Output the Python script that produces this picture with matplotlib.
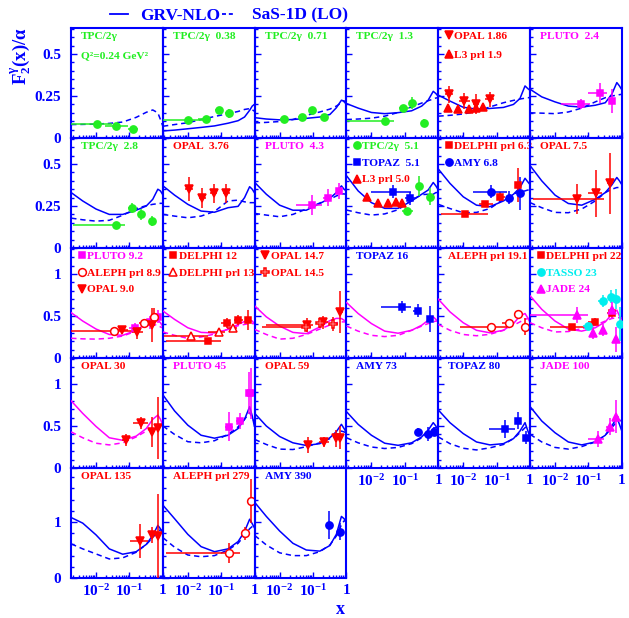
import numpy as np
import matplotlib
matplotlib.use("Agg")
import matplotlib.pyplot as plt
from matplotlib.lines import Line2D
from matplotlib.ticker import FixedLocator, FixedFormatter, LogLocator, NullFormatter

plt.rcParams.update({
    "font.family": ["Liberation Serif", "DejaVu Serif"],
    "font.weight": "bold",
    "mathtext.fontset": "custom",
    "mathtext.rm": "Liberation Serif:bold",
    "mathtext.it": "Liberation Serif:bold",
    "mathtext.bf": "Liberation Serif:bold",
    "mathtext.sf": "Liberation Serif:bold",
})

BLUE = "#0000ff"
GREEN = "#22ee22"
RED = "#ff0000"
MAGENTA = "#ff00ff"
CYAN = "#00eeee"

# ---------------------------------------------------------------- theory curves
curve_x = [0.0018, 0.004, 0.01, 0.025, 0.063, 0.16, 0.32, 0.5, 0.71, 0.85, 0.98]

sas_024 = [0.080, 0.081, 0.083, 0.087, 0.095, 0.123, 0.153, 0.167, 0.150, 0.110, 0.075]
grv_038 = [0.042, 0.047, 0.055, 0.063, 0.072, 0.088, 0.103, 0.125, 0.165, 0.190, 0.200]
sas_038 = [0.070, 0.080, 0.091, 0.110, 0.128, 0.145, 0.158, 0.170, 0.175, 0.168, 0.160]
grv_071 = [0.121, 0.113, 0.108, 0.110, 0.117, 0.125, 0.140, 0.180, 0.225, 0.220, 0.200]
sas_071 = [0.090, 0.093, 0.098, 0.110, 0.135, 0.155, 0.172, 0.190, 0.210, 0.220, 0.210]
grv_13 = [0.205, 0.178, 0.152, 0.145, 0.151, 0.162, 0.190, 0.225, 0.278, 0.265, 0.250]
sas_13 = [0.110, 0.113, 0.118, 0.130, 0.152, 0.185, 0.208, 0.222, 0.232, 0.238, 0.240]
grv_186 = [0.255, 0.220, 0.183, 0.172, 0.176, 0.182, 0.200, 0.235, 0.310, 0.295, 0.285]
sas_186 = [0.130, 0.135, 0.143, 0.158, 0.185, 0.210, 0.224, 0.232, 0.237, 0.240, 0.240]
grv_24 = [0.290, 0.245, 0.215, 0.190, 0.184, 0.195, 0.210, 0.260, 0.330, 0.310, 0.290]
sas_24 = [0.150, 0.148, 0.145, 0.155, 0.178, 0.215, 0.240, 0.250, 0.255, 0.258, 0.260]
grv_28 = [0.330, 0.280, 0.232, 0.200, 0.200, 0.225, 0.250, 0.290, 0.350, 0.340, 0.320]
sas_28 = [0.178, 0.168, 0.160, 0.165, 0.195, 0.235, 0.252, 0.260, 0.264, 0.266, 0.266]
grv_376 = [0.370, 0.315, 0.260, 0.220, 0.213, 0.240, 0.248, 0.300, 0.365, 0.350, 0.330]
sas_376 = [0.200, 0.190, 0.180, 0.190, 0.218, 0.280, 0.285, 0.275, 0.270, 0.270, 0.270]
grv_43 = [0.390, 0.320, 0.255, 0.225, 0.225, 0.265, 0.296, 0.330, 0.370, 0.350, 0.340]
sas_43 = [0.206, 0.196, 0.186, 0.200, 0.232, 0.268, 0.290, 0.310, 0.322, 0.322, 0.320]
grv_51 = [0.430, 0.340, 0.270, 0.236, 0.236, 0.280, 0.320, 0.345, 0.390, 0.370, 0.350]
sas_51 = [0.226, 0.210, 0.196, 0.203, 0.228, 0.285, 0.318, 0.320, 0.320, 0.330, 0.330]
grv_63 = [0.470, 0.385, 0.305, 0.255, 0.246, 0.280, 0.320, 0.360, 0.415, 0.395, 0.380]
sas_63 = [0.260, 0.235, 0.210, 0.212, 0.235, 0.290, 0.322, 0.335, 0.340, 0.345, 0.345]
grv_75 = [0.490, 0.400, 0.315, 0.265, 0.255, 0.290, 0.330, 0.375, 0.420, 0.400, 0.380]
sas_75 = [0.270, 0.240, 0.212, 0.210, 0.232, 0.280, 0.330, 0.350, 0.360, 0.360, 0.360]
grv_92 = [0.540, 0.440, 0.345, 0.280, 0.270, 0.330, 0.410, 0.455, 0.450, 0.420, 0.380]
sas_92 = [0.235, 0.228, 0.225, 0.235, 0.262, 0.320, 0.390, 0.400, 0.390, 0.370, 0.360]
grv_12 = [0.560, 0.460, 0.360, 0.305, 0.298, 0.340, 0.400, 0.435, 0.452, 0.440, 0.410]
sas_12 = [0.310, 0.270, 0.234, 0.250, 0.285, 0.345, 0.385, 0.400, 0.410, 0.410, 0.410]
grv_147 = [0.620, 0.490, 0.380, 0.305, 0.290, 0.370, 0.445, 0.472, 0.470, 0.450, 0.430]
sas_147 = [0.340, 0.280, 0.225, 0.235, 0.280, 0.345, 0.393, 0.420, 0.430, 0.430, 0.430]
grv_16 = [0.660, 0.530, 0.410, 0.320, 0.295, 0.330, 0.390, 0.450, 0.490, 0.460, 0.430]
sas_16 = [0.380, 0.320, 0.270, 0.255, 0.270, 0.330, 0.380, 0.410, 0.430, 0.440, 0.440]
grv_191 = [0.700, 0.550, 0.420, 0.330, 0.300, 0.330, 0.410, 0.500, 0.530, 0.480, 0.430]
sas_191 = [0.400, 0.330, 0.280, 0.265, 0.282, 0.330, 0.390, 0.430, 0.460, 0.470, 0.470]
grv_22 = [0.740, 0.580, 0.440, 0.345, 0.320, 0.360, 0.430, 0.520, 0.570, 0.500, 0.450]
sas_22 = [0.420, 0.360, 0.310, 0.315, 0.350, 0.390, 0.440, 0.470, 0.480, 0.480, 0.480]
grv_30 = [0.800, 0.650, 0.495, 0.360, 0.330, 0.380, 0.470, 0.580, 0.630, 0.580, 0.520]
sas_30 = [0.430, 0.360, 0.295, 0.275, 0.300, 0.370, 0.440, 0.480, 0.500, 0.500, 0.500]
grv_45 = [0.870, 0.680, 0.510, 0.390, 0.355, 0.390, 0.470, 0.580, 0.730, 0.620, 0.500]
sas_45 = [0.500, 0.400, 0.313, 0.300, 0.325, 0.400, 0.490, 0.580, 0.660, 0.600, 0.550]
grv_59 = [0.650, 0.500, 0.375, 0.300, 0.268, 0.290, 0.360, 0.433, 0.520, 0.470, 0.430]
sas_59 = [0.340, 0.280, 0.225, 0.220, 0.254, 0.300, 0.350, 0.400, 0.440, 0.430, 0.420]
grv_73 = [0.670, 0.520, 0.390, 0.295, 0.270, 0.300, 0.370, 0.450, 0.540, 0.500, 0.450]
sas_73 = [0.360, 0.300, 0.250, 0.232, 0.245, 0.290, 0.360, 0.420, 0.470, 0.480, 0.470]
grv_80 = [0.690, 0.540, 0.410, 0.310, 0.275, 0.290, 0.350, 0.440, 0.540, 0.450, 0.380]
sas_80 = [0.370, 0.290, 0.235, 0.215, 0.240, 0.280, 0.350, 0.420, 0.480, 0.500, 0.480]
grv_100 = [0.730, 0.560, 0.420, 0.310, 0.275, 0.310, 0.390, 0.500, 0.600, 0.520, 0.450]
sas_100 = [0.400, 0.310, 0.245, 0.225, 0.255, 0.310, 0.390, 0.480, 0.550, 0.570, 0.560]
grv_135 = [1.080, 0.980, 0.770, 0.520, 0.425, 0.470, 0.600, 0.760, 0.940, 0.880, 0.800]
sas_135 = [0.610, 0.520, 0.430, 0.340, 0.360, 0.460, 0.600, 0.720, 0.840, 0.860, 0.850]
grv_279 = [1.300, 1.060, 0.780, 0.560, 0.470, 0.520, 0.650, 0.830, 1.050, 0.970, 0.900]
sas_279 = [0.720, 0.550, 0.411, 0.380, 0.400, 0.500, 0.620, 0.760, 0.880, 0.920, 0.920]
grv_390 = [1.350, 1.100, 0.840, 0.620, 0.500, 0.480, 0.580, 0.780, 1.100, 1.060, 1.000]
sas_390 = [0.760, 0.590, 0.450, 0.400, 0.400, 0.470, 0.590, 0.750, 0.950, 1.020, 1.020]

# ---------------------------------------------------------------- measurements
# x, F2/alpha, vertical error, horizontal bin range
tpc_024 = dict(x=[0.011, 0.041, 0.13], y=[0.081, 0.071, 0.056], ey=[0.008, 0.008, 0.008],
               xlo=[0.0018, 0.019, 0.093], xhi=[0.03, 0.093, 0.18])
tpc_038 = dict(x=[0.0098, 0.036, 0.083, 0.17], y=[0.107, 0.111, 0.165, 0.147], ey=[0.008, 0.008, 0.02, 0.025],
               xlo=[0.0018, 0.02, 0.065, 0.13], xhi=[0.03, 0.05, 0.1, 0.23])
tpc_071 = dict(x=[0.0135, 0.047, 0.091, 0.22], y=[0.111, 0.125, 0.167, 0.125], ey=[0.008, 0.01, 0.015, 0.015],
               xlo=[0.01, 0.035, 0.075, 0.17], xhi=[0.018, 0.06, 0.11, 0.28])
tpc_13 = dict(x=[0.026, 0.091, 0.166, 0.37], y=[0.101, 0.177, 0.21, 0.091], ey=[0.008, 0.02, 0.035, 0.02],
              xlo=[0.0018, 0.065, 0.13, 0.3], xhi=[0.048, 0.13, 0.2, 0.45])
opal_186 = dict(x=[0.0038, 0.0105, 0.024, 0.062], y=[0.26, 0.22, 0.2, 0.23], ey=[0.05, 0.045, 0.06, 0.045],
                xlo=[0.0028, 0.0075, 0.019, 0.045], xhi=[0.005, 0.016, 0.03, 0.085])
l3_19 = dict(x=[0.0034, 0.0069, 0.0145, 0.024, 0.038], y=[0.177, 0.171, 0.171, 0.18, 0.185],
             ey=[0.012, 0.012, 0.012, 0.012, 0.012],
             xlo=[0.0034, 0.0069, 0.0145, 0.024, 0.038], xhi=[0.0034, 0.0069, 0.0145, 0.024, 0.038])
pluto_24 = dict(x=[0.058, 0.22, 0.5], y=[0.2, 0.27, 0.22], ey=[0.03, 0.06, 0.07],
                xlo=[0.015, 0.1, 0.5], xhi=[0.115, 0.35, 0.5])
tpc_28 = dict(x=[0.041, 0.12, 0.23, 0.47], y=[0.137, 0.236, 0.2, 0.16], ey=[0.01, 0.03, 0.035, 0.03],
              xlo=[0.002, 0.09, 0.2, 0.4], xhi=[0.076, 0.15, 0.26, 0.55])
opal_376 = dict(x=[0.011, 0.027, 0.059, 0.14], y=[0.351, 0.296, 0.325, 0.325], ey=[0.07, 0.06, 0.055, 0.055],
                xlo=[0.0085, 0.021, 0.045, 0.11], xhi=[0.014, 0.034, 0.075, 0.18])
pluto_43 = dict(x=[0.091, 0.28, 0.59], y=[0.256, 0.3, 0.34], ey=[0.06, 0.05, 0.05],
                xlo=[0.03, 0.2, 0.5], xhi=[0.18, 0.36, 0.68])
tpc_51 = dict(x=[0.12, 0.26, 0.55], y=[0.22, 0.371, 0.306], ey=[0.02, 0.06, 0.05],
              xlo=[0.08, 0.26, 0.55], xhi=[0.17, 0.26, 0.55])
topaz_51 = dict(x=[0.044, 0.14], y=[0.335, 0.296], ey=[0.04, 0.04], xlo=[0.01, 0.1], xhi=[0.15, 0.2])
l3_50 = dict(x=[0.0076, 0.0158, 0.031, 0.055, 0.085], y=[0.306, 0.27, 0.266, 0.276, 0.27],
             ey=[0.012, 0.012, 0.012, 0.012, 0.012],
             xlo=[0.0076, 0.0158, 0.031, 0.055, 0.085], xhi=[0.0076, 0.0158, 0.031, 0.055, 0.085])
delphi_63 = dict(x=[0.011, 0.045, 0.13, 0.43], y=[0.2, 0.262, 0.306, 0.375], ey=[0.015, 0.02, 0.025, 0.1],
                 xlo=[0.0022, 0.03, 0.1, 0.35], xhi=[0.054, 0.08, 0.18, 0.5])
amy_68 = dict(x=[0.069, 0.24, 0.49], y=[0.335, 0.3, 0.325], ey=[0.04, 0.04, 0.1],
              xlo=[0.02, 0.24, 0.49], xhi=[0.2, 0.24, 0.49])
opal_75 = dict(x=[0.044, 0.17, 0.45], y=[0.292, 0.325, 0.385], ey=[0.09, 0.14, 0.18],
               xlo=[0.0022, 0.1, 0.35], xhi=[0.3, 0.25, 0.55])
pluto_92 = dict(x=[0.15, 0.4, 0.72], y=[0.361, 0.425, 0.492], ey=[0.05, 0.08, 0.08],
                xlo=[0.1, 0.3, 0.6], xhi=[0.2, 0.5, 0.85])
aleph_89 = dict(x=[0.035, 0.275, 0.55], y=[0.325, 0.413, 0.49], ey=[0.03, 0.05, 0.1],
                xlo=[0.0018, 0.2, 0.45], xhi=[0.2, 0.35, 0.65])
opal_90 = dict(x=[0.06, 0.17, 0.47], y=[0.333, 0.306, 0.393], ey=[0.04, 0.08, 0.2],
               xlo=[0.04, 0.12, 0.35], xhi=[0.09, 0.25, 0.6])
delphi_12 = dict(x=[0.04, 0.148, 0.32, 0.63], y=[0.206, 0.413, 0.452, 0.452], ey=[0.03, 0.06, 0.06, 0.12],
                 xlo=[0.0022, 0.1, 0.25, 0.5], xhi=[0.1, 0.2, 0.45, 0.8])
delphi_13 = dict(x=[0.0123, 0.083, 0.22], y=[0.266, 0.306, 0.361], ey=[0.02, 0.03, 0.04],
                 xlo=[0.002, 0.04, 0.15], xhi=[0.04, 0.13, 0.3])
opal_147 = dict(x=[0.065, 0.2, 0.66], y=[0.393, 0.425, 0.552], ey=[0.08, 0.08, 0.25],
                xlo=[0.004, 0.15, 0.55], xhi=[0.1, 0.28, 0.8])
opal_145 = dict(x=[0.06, 0.16, 0.4], y=[0.373, 0.413, 0.405], ey=[0.05, 0.05, 0.08],
                xlo=[0.003, 0.12, 0.3], xhi=[0.09, 0.22, 0.55])
topaz_16 = dict(x=[0.085, 0.245, 0.55], y=[0.603, 0.563, 0.464], ey=[0.07, 0.08, 0.15],
                xlo=[0.0195, 0.18, 0.45], xhi=[0.15, 0.3, 0.65])
aleph_191 = dict(x=[0.066, 0.23, 0.44, 0.71], y=[0.373, 0.413, 0.524, 0.373], ey=[0.03, 0.04, 0.05, 0.1],
                 xlo=[0.008, 0.15, 0.44, 0.71], xhi=[0.2, 0.3, 0.44, 0.71])
delphi_22 = dict(x=[0.033, 0.155, 0.5], y=[0.365, 0.433, 0.532], ey=[0.02, 0.04, 0.06],
                 xlo=[0.007, 0.1, 0.35], xhi=[0.08, 0.2, 0.6])
tasso_23 = dict(x=[0.1, 0.28, 0.48, 0.66, 0.87], y=[0.381, 0.679, 0.73, 0.698, 0.405],
                ey=[0.04, 0.07, 0.08, 0.12, 0.2],
                xlo=[0.07, 0.2, 0.4, 0.6, 0.8], xhi=[0.13, 0.35, 0.55, 0.72, 0.95])
jade_24 = dict(x=[0.047, 0.14, 0.28, 0.5, 0.69], y=[0.512, 0.294, 0.333, 0.571, 0.222],
               ey=[0.1, 0.07, 0.07, 0.1, 0.15],
               xlo=[0.0018, 0.14, 0.28, 0.5, 0.69], xhi=[0.1, 0.14, 0.28, 0.5, 0.69])
opal_30 = dict(x=[0.079, 0.22, 0.49, 0.72], y=[0.333, 0.532, 0.433, 0.48], ey=[0.07, 0.07, 0.18, 0.37],
               xlo=[0.06, 0.13, 0.42, 0.68], xhi=[0.1, 0.35, 0.56, 0.76])
pluto_45 = dict(x=[0.17, 0.36, 0.68, 0.79], y=[0.492, 0.56, 0.889, 0.889], ey=[0.17, 0.1, 0.25, 0.3],
                xlo=[0.13, 0.28, 0.68, 0.79], xhi=[0.23, 0.46, 0.68, 0.79])
opal_59 = dict(x=[0.072, 0.21, 0.48, 0.65], y=[0.274, 0.306, 0.353, 0.361], ey=[0.1, 0.06, 0.1, 0.14],
               xlo=[0.06, 0.15, 0.42, 0.62], xhi=[0.09, 0.3, 0.55, 0.68])
amy_73 = dict(x=[0.245, 0.49, 0.76], y=[0.433, 0.405, 0.433], ey=[0.04, 0.08, 0.05],
              xlo=[0.245, 0.49, 0.76], xhi=[0.245, 0.49, 0.76])
topaz_80 = dict(x=[0.18, 0.43, 0.76], y=[0.464, 0.563, 0.361], ey=[0.11, 0.1, 0.08],
                xlo=[0.058, 0.43, 0.76], xhi=[0.36, 0.43, 0.76])
jade_100 = dict(x=[0.19, 0.43, 0.69], y=[0.345, 0.492, 0.611], ey=[0.1, 0.1, 0.2],
                xlo=[0.1, 0.33, 0.6], xhi=[0.3, 0.55, 0.8])
opal_135 = dict(x=[0.21, 0.47, 0.72], y=[0.661, 0.768, 0.75], ey=[0.3, 0.15, 0.75],
                xlo=[0.107, 0.4, 0.7], xhi=[0.37, 0.55, 0.75])
aleph_279 = dict(x=[0.17, 0.51, 0.79], y=[0.452, 0.798, 1.375], ey=[0.18, 0.12, 0.4],
                 xlo=[0.0022, 0.45, 0.79], xhi=[0.36, 0.6, 0.79])
amy_390 = dict(x=[0.3, 0.66], y=[0.946, 0.827], ey=[0.25, 0.15], xlo=[0.3, 0.66], xhi=[0.3, 0.66])

# marker style per experiment: colour, marker, size, filled
STYLES = {
    "tpc": (GREEN, "o", 5.2, True),
    "opal": (RED, "v", 5.6, True),
    "opal_open": (RED, "P", 5.6, False),
    "l3": (RED, "^", 5.2, True),
    "pluto": (MAGENTA, "s", 4.7, True),
    "topaz": (BLUE, "s", 4.7, True),
    "amy": (BLUE, "o", 5.2, True),
    "delphi": (RED, "s", 4.7, True),
    "delphi_open": (RED, "^", 5.6, False),
    "aleph": (RED, "o", 5.6, False),
    "tasso": (CYAN, "o", 5.2, True),
    "jade": (MAGENTA, "^", 5.2, True),
}

# panel layout: (row, col, curve colour, GRV-NLO, SaS-1D, label lines)
# label line: (text, text colour, style key, data set, show marker in label)
panels = [
    (0, 0, BLUE, None, sas_024, [("TPC/2γ", GREEN, "tpc", tpc_024, False),
                                 ("Q²=0.24 GeV²", GREEN, None, None, False)]),
    (0, 1, BLUE, grv_038, sas_038, [("TPC/2γ  0.38", GREEN, "tpc", tpc_038, False)]),
    (0, 2, BLUE, grv_071, sas_071, [("TPC/2γ  0.71", GREEN, "tpc", tpc_071, False)]),
    (0, 3, BLUE, grv_13, sas_13, [("TPC/2γ  1.3", GREEN, "tpc", tpc_13, False)]),
    (0, 4, BLUE, grv_186, sas_186, [("OPAL 1.86", RED, "opal", opal_186, True),
                                    ("L3 prl 1.9", RED, "l3", l3_19, True)]),
    (0, 5, BLUE, grv_24, sas_24, [("PLUTO  2.4", MAGENTA, "pluto", pluto_24, False)]),
    (1, 0, BLUE, grv_28, sas_28, [("TPC/2γ  2.8", GREEN, "tpc", tpc_28, False)]),
    (1, 1, BLUE, grv_376, sas_376, [("OPAL  3.76", RED, "opal", opal_376, False)]),
    (1, 2, BLUE, grv_43, sas_43, [("PLUTO  4.3", MAGENTA, "pluto", pluto_43, False)]),
    (1, 3, BLUE, grv_51, sas_51, [("TPC/2γ  5.1", GREEN, "tpc", tpc_51, True),
                                  ("TOPAZ  5.1", BLUE, "topaz", topaz_51, True),
                                  ("L3 prl 5.0", RED, "l3", l3_50, True)]),
    (1, 4, BLUE, grv_63, sas_63, [("DELPHI prl 6.3", RED, "delphi", delphi_63, True),
                                  ("AMY 6.8", BLUE, "amy", amy_68, True)]),
    (1, 5, BLUE, grv_75, sas_75, [("OPAL 7.5", RED, "opal", opal_75, False)]),
    (2, 0, MAGENTA, grv_92, sas_92, [("PLUTO 9.2", MAGENTA, "pluto", pluto_92, True),
                                     ("ALEPH prl 8.9", RED, "aleph", aleph_89, True),
                                     ("OPAL 9.0", RED, "opal", opal_90, True)]),
    (2, 1, MAGENTA, grv_12, sas_12, [("DELPHI 12", RED, "delphi", delphi_12, True),
                                     ("DELPHI prl 13", RED, "delphi_open", delphi_13, True)]),
    (2, 2, MAGENTA, grv_147, sas_147, [("OPAL 14.7", RED, "opal", opal_147, True),
                                       ("OPAL 14.5", RED, "opal_open", opal_145, True)]),
    (2, 3, MAGENTA, grv_16, sas_16, [("TOPAZ 16", BLUE, "topaz", topaz_16, False)]),
    (2, 4, MAGENTA, grv_191, sas_191, [("ALEPH prl 19.1", RED, "aleph", aleph_191, False)]),
    (2, 5, MAGENTA, grv_22, sas_22, [("DELPHI prl 22", RED, "delphi", delphi_22, True),
                                     ("TASSO 23", CYAN, "tasso", tasso_23, True),
                                     ("JADE 24", MAGENTA, "jade", jade_24, True)]),
    (3, 0, MAGENTA, grv_30, sas_30, [("OPAL 30", RED, "opal", opal_30, False)]),
    (3, 1, BLUE, grv_45, sas_45, [("PLUTO 45", MAGENTA, "pluto", pluto_45, False)]),
    (3, 2, BLUE, grv_59, sas_59, [("OPAL 59", RED, "opal", opal_59, False)]),
    (3, 3, BLUE, grv_73, sas_73, [("AMY 73", BLUE, "amy", amy_73, False)]),
    (3, 4, BLUE, grv_80, sas_80, [("TOPAZ 80", BLUE, "topaz", topaz_80, False)]),
    (3, 5, BLUE, grv_100, sas_100, [("JADE 100", MAGENTA, "jade", jade_100, False)]),
    (4, 0, BLUE, grv_135, sas_135, [("OPAL 135", RED, "opal", opal_135, False)]),
    (4, 1, BLUE, grv_279, sas_279, [("ALEPH prl 279", RED, "aleph", aleph_279, False)]),
    (4, 2, BLUE, grv_390, sas_390, [("AMY 390", BLUE, "amy", amy_390, False)]),
]

# per-row y range, major ticks, tick labels and minor step
row_ylim = [0.655, 0.655, 1.31, 1.31, 1.965]
row_major = [[0, 0.25, 0.5], [0, 0.25, 0.5], [0, 0.5, 1], [0, 0.5, 1], [0, 1]]
row_major_labels = [["0", "0.25", "0.5"], ["0", "0.25", "0.5"], ["0", "0.5", "1"], ["0", "0.5", "1"], ["0", "1"]]
row_minor_step = [0.05, 0.05, 0.1, 0.1, 0.2]
x_major = [0.01, 0.1, 1.0]
x_major_labels = [r"$10^{-2}$", r"$10^{-1}$", "1"]

# ---------------------------------------------------------------- figure
W, H = 629, 618
fig = plt.figure(figsize=(W / 100, H / 100), dpi=100)

left0, col_w = 71.0, 91.8
top0, row_h = 28.0, 110.0


def px_axes(row, col):
    l = left0 + col * col_w
    t = top0 + row * row_h
    return [l / W, 1 - (t + row_h) / H, col_w / W, row_h / H]


def draw_set(ax, key, d):
    col, mk, ms, filled = STYLES[key]
    x = np.asarray(d["x"], float)
    y = np.asarray(d["y"], float)
    xerr = [x - np.asarray(d["xlo"], float), np.asarray(d["xhi"], float) - x]
    ax.errorbar(x, y, yerr=d["ey"], xerr=xerr, fmt="none", ecolor=col, elinewidth=1.1,
                capsize=0, zorder=4, clip_on=True)
    ax.plot(x, y, linestyle="none", marker=mk, ms=ms, mec=col, mew=1.1,
            mfc=col if filled else "white", zorder=5)


for row, col, ccol, grv, sas, labels in panels:
    ax = fig.add_axes(px_axes(row, col))
    ax.set_facecolor("none")
    ax.set_xscale("log")
    ax.set_xlim(0.00178, 1.0)
    ax.set_ylim(0, row_ylim[row])

    if grv is not None:
        ax.plot(curve_x, grv, color=ccol, lw=1.1, zorder=3)
    ax.plot(curve_x, sas, color=ccol, lw=1.1, ls=(0, (3.5, 2.5)), zorder=3)

    spacing = 19.0 if row == 0 else 16.7
    for i, (text, tcol, key, data, show_marker) in enumerate(labels):
        if data is not None:
            draw_set(ax, key, data)
        yb = 1 - (11.0 + spacing * i) / row_h
        if show_marker:
            c, mk, ms, filled = STYLES[key]
            ax.plot([10.5 / col_w], [yb + 3.8 / row_h], marker=mk, ms=ms, mec=c, mew=1.1,
                    mfc=c if filled else "white", transform=ax.transAxes, clip_on=False, zorder=6)
            ax.text(16.0 / col_w, yb, text, color=tcol, fontsize=8.2, fontweight="bold",
                    transform=ax.transAxes, va="baseline", ha="left", zorder=6, clip_on=False)
        else:
            ax.text(10.0 / col_w, yb, text, color=tcol, fontsize=8.2, fontweight="bold",
                    transform=ax.transAxes, va="baseline", ha="left", zorder=6, clip_on=False)

    for sp in ax.spines.values():
        sp.set_color(BLUE)
        sp.set_linewidth(1.5)

    ax.xaxis.set_major_locator(FixedLocator(x_major))
    ax.xaxis.set_minor_locator(LogLocator(base=10, subs=np.arange(2, 10)))
    ax.xaxis.set_minor_formatter(NullFormatter())
    ax.yaxis.set_major_locator(FixedLocator(row_major[row]))
    ax.yaxis.set_minor_locator(FixedLocator(np.arange(0, row_ylim[row], row_minor_step[row])))

    ax.tick_params(which="both", direction="in", colors=BLUE, top=False, right=False,
                   labelsize=11, width=1.0)
    ax.tick_params(which="major", length=4.5)
    ax.tick_params(which="minor", length=2.2)
    ax.tick_params(axis="y", pad=7)
    ax.tick_params(axis="x", pad=4)

    if col == 0:
        ax.yaxis.set_major_formatter(FixedFormatter(row_major_labels[row]))
    else:
        ax.set_yticklabels([])
    if row == 4 or (row == 3 and col >= 3):
        ax.xaxis.set_major_formatter(FixedFormatter(x_major_labels))
    else:
        ax.set_xticklabels([])
    for lab in ax.get_xticklabels() + ax.get_yticklabels():
        lab.set_fontweight("bold")

# legend line at the top
yl = 1 - 13.5 / H
fig.add_artist(Line2D([110 / W, 128 / W], [yl, yl], color=BLUE, lw=1.3))
fig.text(140 / W, 1 - 19.5 / H, "GRV-NLO", color=BLUE, fontsize=12.5, fontweight="bold",
         ha="left", va="baseline")
fig.add_artist(Line2D([222 / W, 235 / W], [yl, yl], color=BLUE, lw=1.3, ls=(0, (2.2, 1.6))))
fig.text(251.5 / W, 1 - 19.5 / H, "SaS-1D (LO)", color=BLUE, fontsize=12.5, fontweight="bold",
         ha="left", va="baseline")

# axis titles
fig.text(21 / W, 1 - 56 / H, r"$\mathrm{F_2^{γ}(x)/α}$", rotation=90, color=BLUE, fontsize=13.5,
         ha="center", va="center")
fig.text(340 / W, 1 - 609 / H, "x", color=BLUE, fontsize=13, fontweight="bold",
         ha="center", va="center")

fig.savefig("out.png", dpi=100)
